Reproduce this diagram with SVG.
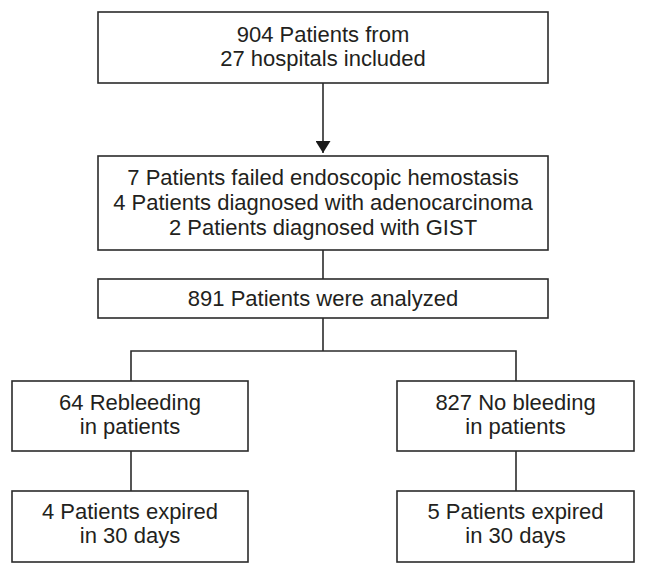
<svg xmlns="http://www.w3.org/2000/svg" width="647" height="575" viewBox="0 0 647 575">
<style>
.box{fill:#fff;stroke:#2b2b2b;stroke-width:1.6}
.ln{fill:none;stroke:#2b2b2b;stroke-width:1.6}
text{font-family:"Liberation Sans",Arial,sans-serif;font-size:22px;fill:#231f20;text-anchor:middle}
</style>
<defs>
<marker id="arr" viewBox="0 0 12 15" refX="12" refY="7.5" markerWidth="12" markerHeight="15" markerUnits="userSpaceOnUse" orient="auto">
<path d="M0,0 L12,7.5 L0,15 Z" fill="#1a1a1a"/>
</marker>
</defs>
<rect width="647" height="575" fill="#fff"/>
<g id="connectors">
<line class="ln" x1="323" y1="83" x2="323" y2="153" marker-end="url(#arr)"/>
<line class="ln" x1="323" y1="250" x2="323" y2="279"/>
<line class="ln" x1="323" y1="318" x2="323" y2="351"/>
<polyline class="ln" points="131,381 131,351 516,351 516,381"/>
<line class="ln" x1="131" y1="451" x2="131" y2="491"/>
<line class="ln" x1="516" y1="451" x2="516" y2="491"/>
</g>
<g id="n1">
<rect class="box" x="98" y="12" width="450" height="71"/>
<text x="323" y="42">904 Patients from</text>
<text x="323" y="66">27 hospitals included</text>
</g>
<g id="n2">
<rect class="box" x="98" y="156" width="450" height="94"/>
<text x="323" y="185">7 Patients failed endoscopic hemostasis</text>
<text x="323" y="210">4 Patients diagnosed with adenocarcinoma</text>
<text x="323" y="235">2 Patients diagnosed with GIST</text>
</g>
<g id="n3">
<rect class="box" x="98" y="279" width="450" height="39"/>
<text x="323" y="306">891 Patients were analyzed</text>
</g>
<g id="n4">
<rect class="box" x="12" y="381" width="236" height="70"/>
<text x="130" y="410">64 Rebleeding</text>
<text x="130" y="434">in patients</text>
</g>
<g id="n5">
<rect class="box" x="397" y="381" width="237" height="70"/>
<text x="515.5" y="410">827 No bleeding</text>
<text x="515.5" y="434">in patients</text>
</g>
<g id="n6">
<rect class="box" x="12" y="491" width="236" height="71"/>
<text x="130" y="519">4 Patients expired</text>
<text x="130" y="543">in 30 days</text>
</g>
<g id="n7">
<rect class="box" x="397" y="491" width="237" height="71"/>
<text x="515.5" y="519">5 Patients expired</text>
<text x="515.5" y="543">in 30 days</text>
</g>
</svg>
